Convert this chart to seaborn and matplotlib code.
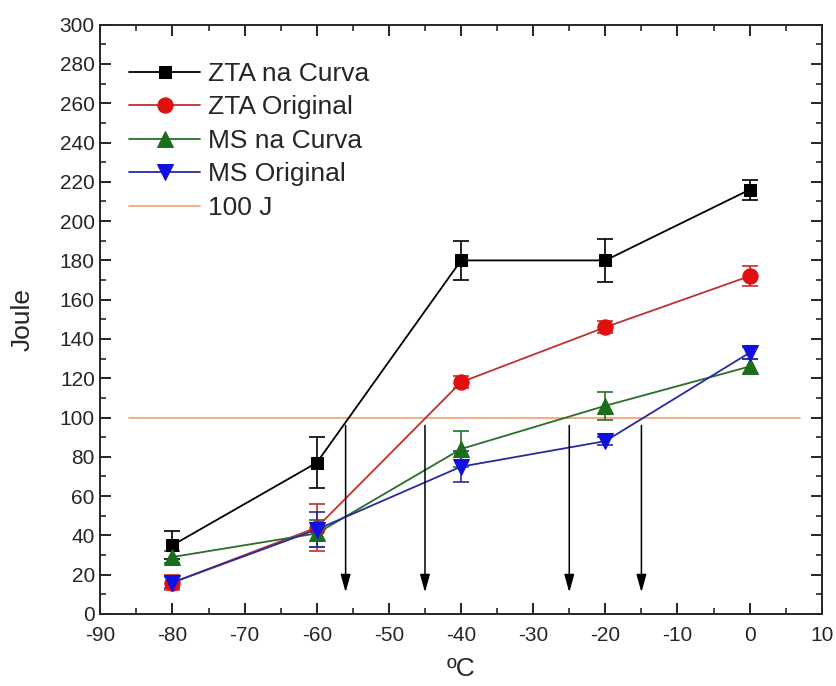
import matplotlib
matplotlib.use("Agg")
import matplotlib.pyplot as plt
import numpy as np
import pandas as pd
import seaborn as sns

# --- data ---
temps = [-80, -60, -40, -20, 0]
series_names = ["ZTA na Curva", "ZTA Original", "MS na Curva", "MS Original"]
zta_curva = [35, 77, 180, 180, 216]
zta_curva_err = [7, 13, 10, 11, 5]
zta_orig = [16, 44, 118, 146, 172]
zta_orig_err = [4, 12, 3, 3, 5]
ms_curva = [29, 41, 84, 106, 126]
ms_curva_err = [3, 7, 9, 7, 4]
ms_orig = [16, 43, 75, 88, 133]
ms_orig_err = [3, 9, 8, 2, 3]
ref_level = 100
ref_span = [-86, 7]
arrow_x = [-56, -45, -25, -15]
arrow_top = 96
arrow_bottom = 11

colors = {"ZTA na Curva": "black", "ZTA Original": "#e01010",
          "MS na Curva": "#1b6e1b", "MS Original": "#1010e0"}
line_colors = {"ZTA na Curva": "black", "ZTA Original": "#c03030",
               "MS na Curva": "#2a6e2a", "MS Original": "#2a2aa0"}
markers = {"ZTA na Curva": "s", "ZTA Original": "o",
           "MS na Curva": "^", "MS Original": "v"}

values = [zta_curva, zta_orig, ms_curva, ms_orig]
errors = [zta_curva_err, zta_orig_err, ms_curva_err, ms_orig_err]
df = pd.DataFrame({
    "temp": np.tile(temps, len(series_names)),
    "joule": np.concatenate(values),
    "err": np.concatenate(errors),
    "serie": np.repeat(series_names, len(temps)),
})

sns.set_style("ticks")
plt.rcParams["font.family"] = ["Liberation Sans", "DejaVu Sans"]
plt.rcParams["axes.unicode_minus"] = False

fig = plt.figure(figsize=(8.36, 6.86), dpi=100)
ax = fig.add_axes([0.12, 0.105, 0.863, 0.859])

# error bars first, lines/markers on top
for name in series_names:
    sub = df[df.serie == name]
    ax.errorbar(sub.temp, sub.joule, yerr=sub.err, fmt="none",
                ecolor=line_colors[name], elinewidth=1.2, capsize=6, capthick=1.2, zorder=2)

for name in series_names:
    sub = df[df.serie == name]
    sns.lineplot(data=sub, x="temp", y="joule", ax=ax, color=line_colors[name],
                 marker=markers[name], markersize=11 if markers[name] != "s" else 9,
                 markerfacecolor=colors[name], markeredgecolor=colors[name],
                 linewidth=1.3, label=name, zorder=3)

ax.plot(ref_span, [ref_level, ref_level], color="#f0a878", linewidth=1.3, label="100 J", zorder=1)

for xa in arrow_x:
    ax.annotate("", xy=(xa, arrow_bottom), xytext=(xa, arrow_top),
                arrowprops=dict(arrowstyle="-|>,head_length=0.9,head_width=0.25", color="black",
                                lw=1.1, mutation_scale=12, shrinkA=0, shrinkB=0))

ax.set_xlim(-90, 10)
ax.set_ylim(0, 300)
ax.set_xticks(np.arange(-90, 11, 10))
ax.set_yticks(np.arange(0, 301, 20))
ax.set_xticks(np.arange(-85, 10, 10), minor=True)
ax.set_yticks(np.arange(10, 300, 20), minor=True)
ax.tick_params(which="both", direction="in", top=True, right=True, labelsize=15)
ax.tick_params(which="major", length=8, width=1.4)
ax.tick_params(which="minor", length=4, width=1.2)
ax.tick_params(axis="x", which="major", pad=9)
ax.tick_params(axis="y", which="major", pad=4)
for s in ax.spines.values():
    s.set_linewidth(1.4)

ax.set_xlabel("ºC", fontsize=19, labelpad=8)
ax.set_ylabel("Joule", fontsize=19, labelpad=18)

ax.legend(loc="upper left", bbox_to_anchor=(0.025, 0.955), frameon=False, fontsize=19,
          handlelength=2.7, labelspacing=0.36, borderaxespad=0.0, handletextpad=0.3)

fig.savefig("out.png", dpi=100)
